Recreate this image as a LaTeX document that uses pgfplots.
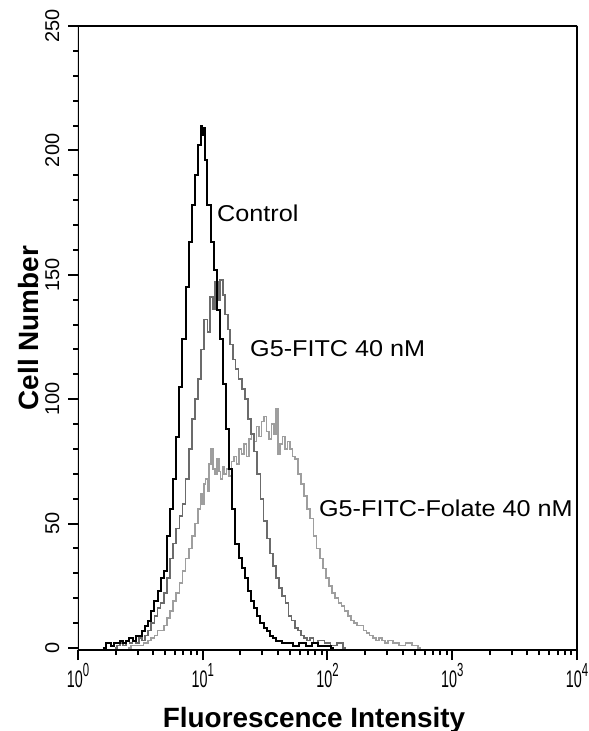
\documentclass[border=0pt]{standalone}
\usepackage{fontspec}
\setmainfont{Liberation Sans}
\usepackage{graphicx}
\usepackage{pgfplots}
\usepackage{pgfplotstable}
\pgfplotsset{compat=1.18}

\definecolor{midgray}{gray}{0.42}
\definecolor{lightgray}{gray}{0.62}

% x tick label: narrow 10 with a large exponent
\newcommand\xl[1]{\scalebox{0.6}[1]{\fontsize{24}{24}\selectfont 10\raisebox{11.5bp}{\fontsize{19}{19}\selectfont #1}}}
\newcommand\ann[1]{\scalebox{1.1}[1]{\fontsize{23}{23}\selectfont #1}}

% log10 of intensity, cell count
\pgfplotstableread{
lx y
0.20 0
0.25 2
0.275 1
0.30 2
0.325 2
0.35 3
0.375 2
0.40 3
0.425 4
0.45 3
0.475 5
0.50 5
0.525 7
0.55 9
0.575 11
0.60 15
0.625 19
0.65 23
0.675 28
0.70 31
0.725 45
0.75 56
0.775 68
0.80 85
0.825 105
0.85 124
0.875 145
0.90 163
0.925 178
0.95 190
0.975 202
0.99 210
1.00 206
1.01 209
1.025 196
1.05 178
1.075 163
1.10 152
1.125 136
1.15 124
1.175 106
1.20 88
1.225 72
1.25 56
1.275 42
1.30 36
1.325 32
1.35 28
1.375 23
1.40 19
1.425 16
1.45 13
1.475 10
1.50 8
1.525 7
1.55 5
1.575 4
1.60 3
1.625 3
1.65 2
1.70 2
1.75 1
1.80 2
1.85 1
1.90 2
1.95 1
2.00 1
2.05 0
}\ctrl

\pgfplotstableread{
lx y
0.30 0
0.325 1
0.35 2
0.375 1
0.40 3
0.425 2
0.45 3
0.475 2
0.50 4
0.525 3
0.55 5
0.575 7
0.60 10
0.625 13
0.65 16
0.675 18
0.70 22
0.725 28
0.75 36
0.775 42
0.80 48
0.825 53
0.85 58
0.875 68
0.90 80
0.925 92
0.95 100
0.975 108
1.00 120
1.025 132
1.05 127
1.07 141
1.09 136
1.11 147
1.13 140
1.15 148
1.17 142
1.19 134
1.21 128
1.23 122
1.25 116
1.275 112
1.30 108
1.325 104
1.35 100
1.375 92
1.40 86
1.425 79
1.45 70
1.475 60
1.50 51
1.525 44
1.55 38
1.575 33
1.60 28
1.625 24
1.65 21
1.675 18
1.70 13
1.725 11
1.75 8
1.775 7
1.80 5
1.825 4
1.85 3
1.875 4
1.90 2
1.95 3
2.00 2
2.05 1
2.10 2
2.15 0
}\fitc

\pgfplotstableread{
lx y
0.40 0
0.45 1
0.50 1
0.55 2
0.575 3
0.60 4
0.625 5
0.65 7
0.675 7
0.70 9
0.725 12
0.75 15
0.775 19
0.80 22
0.825 26
0.85 31
0.875 36
0.90 40
0.925 45
0.95 50
0.975 56
0.99 62
1.00 58
1.015 66
1.03 68
1.045 63
1.06 74
1.075 80
1.09 72
1.105 70
1.12 76
1.135 71
1.15 68
1.165 73
1.18 70
1.20 72
1.22 69
1.24 75
1.26 77
1.28 74
1.30 80
1.32 78
1.34 82
1.36 77
1.38 84
1.40 86
1.42 83
1.44 89
1.46 85
1.48 91
1.50 93
1.52 87
1.54 84
1.56 90
1.58 86
1.60 96
1.61 78
1.63 82
1.65 85
1.67 80
1.69 83
1.71 80
1.73 77
1.75 76
1.775 70
1.80 66
1.825 61
1.85 56
1.875 52
1.90 45
1.925 40
1.95 36
1.975 32
2.00 28
2.025 25
2.05 22
2.075 20
2.10 18
2.125 17
2.15 15
2.175 13
2.20 11
2.225 10
2.25 9
2.275 9
2.30 7
2.325 6
2.35 5
2.375 4
2.40 3
2.425 4
2.45 3
2.475 2
2.50 3
2.55 2
2.60 1
2.65 2
2.70 1
2.75 0
}\folate

\begin{document}
\begin{tikzpicture}
\useasboundingbox (-78bp,-81bp) rectangle (511bp,650bp);
\begin{axis}[
  at={(0,0)}, anchor=south west,
  width=499bp, height=624bp, scale only axis,
  xmode=log, xmin=1, xmax=10000,
  ymin=-0.8, ymax=250,
  xtick={1,10,100,1000,10000},
  xticklabels={\xl{0},\xl{1},\xl{2},\xl{3},\xl{4}},
  minor xtick={2,3,4,5,6,7,8,9,20,30,40,50,60,70,80,90,200,300,400,500,600,700,800,900,2000,3000,4000,5000,6000,7000,8000,9000},
  ytick={0,50,100,150,200,250},
  minor y tick num=4,
  tick align=outside, xtick pos=bottom, ytick pos=left,
  major tick length=10bp, minor tick length=5bp,
  tick style={line width=2bp, black},
  /pgf/number format/assume math mode=true,
  yticklabel style={font=\fontsize{20}{20}\selectfont, xshift=-9bp, rotate=90, anchor=base, inner sep=0pt},
  xticklabel style={anchor=north, inner sep=0pt, yshift=-3bp},
  xlabel={Fluorescence Intensity},
  ylabel={Cell Number},
  xlabel style={font=\bfseries\fontsize{28}{28}\selectfont, at={([yshift=-77bp]axis description cs:0.473,0)}, anchor=base},
  ylabel style={font=\bfseries\fontsize{28}{28}\selectfont, at={([xshift=-39bp]axis description cs:0,0.516)}, anchor=base},
]
\addplot[const plot mark mid, lightgray, line width=1.7bp] table[x expr={10^\thisrow{lx}}, y=y] {\folate};
\addplot[const plot mark mid, midgray, line width=1.7bp] table[x expr={10^\thisrow{lx}}, y=y] {\fitc};
\addplot[const plot mark mid, black, line width=2bp] table[x expr={10^\thisrow{lx}}, y=y] {\ctrl};
\draw[line width=2.4bp, line join=miter] (rel axis cs:0,0) rectangle (rel axis cs:1,1);
\node[anchor=base west, inner sep=0pt] at (axis cs:13.0,171.6) {\ann{Control}};
\node[anchor=base west, inner sep=0pt] at (axis cs:23.9,117) {\ann{G5-FITC 40 nM}};
\node[anchor=base west, inner sep=0pt] at (axis cs:85.3,53) {\ann{G5-FITC-Folate 40 nM}};
\end{axis}
\end{tikzpicture}
\end{document}
